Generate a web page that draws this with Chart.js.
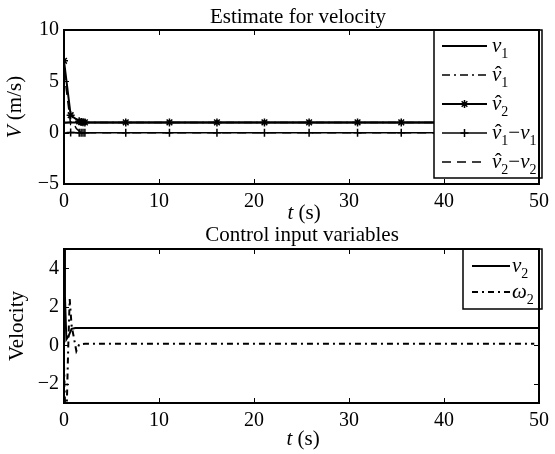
<!DOCTYPE html>
<html>
<head>
<meta charset="utf-8">
<script src="https://cdn.jsdelivr.net/npm/chart.js@4.4.0/dist/chart.umd.min.js"></script>
<style>
html, body { margin: 0; padding: 0; background: #fff; }
#wrap { position: relative; width: 555px; height: 454px; }
canvas { position: absolute; left: 0; }
</style>
</head>
<body>
<div id="wrap">
  <canvas id="topChart" width="555" height="227" style="top:0"></canvas>
  <canvas id="bottomChart" width="555" height="227" style="top:227px"></canvas>
</div>
<script>
/* Datos - gráfico superior (estimación de velocidad) */

const tMarks = [0, 0.7, 1.6, 1.8, 2.0, 2.2, 6.5, 11.1, 16.1, 21.1, 25.8, 30.9, 35.5, 40.4, 45.2, 50];
const v1Real = [1, 1, 1, 1, 1, 1, 1, 1, 1, 1, 1, 1, 1, 1, 1, 1];
const v1Est = [0.95, 1.02, 1, 1, 1, 1, 1, 1, 1, 1, 1, 1, 1, 1, 1, 1];
const v2Est = [7, 1.7, 1.1, 1.05, 1.02, 1.0, 1, 1, 1, 1, 1, 1, 1, 1, 1, 1];
const errV1 = [-0.05, 0.02, 0, 0, 0, 0, 0, 0, 0, 0, 0, 0, 0, 0, 0, 0];
const tErr2 = [0, 0.7, 1.0, 1.3, 1.7, 2.2, 50];
const errV2 = [6, 0.8, 0.9, 0.4, 0.05, 0, 0];
const topYTicks = [-5, 0, 5, 10];

/* Datos - gráfico inferior (variables de control) */

const tV2 = [0, 0.1, 0.25, 0.5, 0.8, 1.2, 2, 50];
const v2Input = [5, 2.5, 0.3, 0.5, 0.85, 0.9, 0.9, 0.9];
const tW2 = [0, 0.1, 0.3, 0.45, 0.6, 0.8, 1.0, 1.3, 1.6, 2.2, 49.5];
const w2Input = [-1, -3, -3, 0, 2.4, 1.0, 0.5, -0.3, 0.05, 0.08, 0.08];
const bottomYTicks = [-2, 0, 2, 4];

const xTicks = [0, 10, 20, 30, 40, 50];

const serif = '"Liberation Serif", "Times New Roman", serif';

/* etiquetas con subíndices y sombrero */
const topLegendNames = [
  [{t: 'v', it: 1}, {t: '1', sub: 1}],
  [{t: 'v', it: 1, hat: 1}, {t: '1', sub: 1}],
  [{t: 'v', it: 1, hat: 1}, {t: '2', sub: 1}],
  [{t: 'v', it: 1, hat: 1}, {t: '1', sub: 1}, {t: '−'}, {t: 'v', it: 1}, {t: '1', sub: 1}],
  [{t: 'v', it: 1, hat: 1}, {t: '2', sub: 1}, {t: '−'}, {t: 'v', it: 1}, {t: '2', sub: 1}]
];
const bottomLegendNames = [
  [{t: 'v', it: 1}, {t: '2', sub: 1}],
  [{t: 'ω', it: 1}, {t: '2', sub: 1}]
];

const pairs = (xs, ys) => xs.map((x, i) => ({x: x, y: ys[i]}));

/* dibujar texto "matemático" */
const tokenFont = (tk, size) => {
  if (tk.sub) return `${Math.round(size * 0.68)}px ${serif}`;
  return `${tk.it ? 'italic ' : ''}${size}px ${serif}`;
};

const measureMath = (ctx, tokens, size) => {
  let w = 0;
  tokens.forEach(tk => { ctx.font = tokenFont(tk, size); w += ctx.measureText(tk.t).width; });
  return w;
};

const drawMath = (ctx, x, y, tokens, size) => {
  ctx.textBaseline = 'alphabetic';
  ctx.textAlign = 'left';
  tokens.forEach(tk => {
    ctx.font = tokenFont(tk, size);
    const w = ctx.measureText(tk.t).width;
    ctx.fillText(tk.t, x, tk.sub ? y + size * 0.3 : y);
    if (tk.hat) {
      ctx.font = `${size}px ${serif}`;
      ctx.textAlign = 'center';
      ctx.fillText('ˆ', x + w / 2 + 1.5, y);
      ctx.textAlign = 'left';
    }
    x += w;
  });
};

/* marco estilo MATLAB: caja, ticks hacia adentro, títulos, leyenda */
const matlabFrame = {
  id: 'matlabFrame',
  afterDatasetsDraw(chart, args, opts) {
    const {ctx, chartArea: a, scales} = chart;
    const tl = 5;
    ctx.save();
    ctx.strokeStyle = '#000';
    ctx.fillStyle = '#000';
    ctx.lineWidth = 1;
    ctx.beginPath();
    scales.x.ticks.forEach(tk => {
      const px = Math.round(scales.x.getPixelForValue(tk.value)) + 0.5;
      ctx.moveTo(px, a.bottom); ctx.lineTo(px, a.bottom - tl);
      ctx.moveTo(px, a.top); ctx.lineTo(px, a.top + tl);
    });
    scales.y.ticks.forEach(tk => {
      const py = Math.round(scales.y.getPixelForValue(tk.value)) + 0.5;
      ctx.moveTo(a.left, py); ctx.lineTo(a.left + tl, py);
      ctx.moveTo(a.right, py); ctx.lineTo(a.right - tl, py);
    });
    ctx.stroke();

    // leyenda
    const lg = opts.legend;
    ctx.fillStyle = '#fff';
    ctx.fillRect(lg.x, lg.y, lg.w, lg.h);
    ctx.lineWidth = 1.5;
    ctx.strokeRect(lg.x, lg.y, lg.w, lg.h);
    ctx.fillStyle = '#000';
    lg.rows.forEach((ry, i) => {
      const ds = chart.data.datasets[i];
      ctx.save();
      ctx.lineWidth = ds.borderWidth;
      ctx.setLineDash(ds.borderDash || []);
      ctx.beginPath();
      ctx.moveTo(lg.x1, ry);
      ctx.lineTo(lg.x2, ry);
      ctx.stroke();
      ctx.restore();
      if (ds.pointRadius > 0) {
        ctx.lineWidth = ds.pointBorderWidth;
        Chart.helpers.drawPoint(ctx, {pointStyle: ds.pointStyle, radius: ds.pointRadius, borderWidth: ds.pointBorderWidth},
          (lg.x1 + lg.x2) / 2, ry);
      }
      drawMath(ctx, lg.tx, ry + 6, lg.names[i], 21);
    });

    // título y ejes
    ctx.font = `21px ${serif}`;
    ctx.textAlign = 'center';
    ctx.textBaseline = 'alphabetic';
    ctx.fillText(opts.title.text, opts.title.x, opts.title.y);

    const xw = measureMath(ctx, opts.xLabel.tokens, 21);
    drawMath(ctx, opts.xLabel.x - xw / 2, opts.xLabel.y, opts.xLabel.tokens, 21);

    const yw = measureMath(ctx, opts.yLabel.tokens, 21);
    ctx.save();
    ctx.translate(opts.yLabel.x, (a.top + a.bottom) / 2);
    ctx.rotate(-Math.PI / 2);
    drawMath(ctx, -yw / 2, 0, opts.yLabel.tokens, 21);
    ctx.restore();

    // caja de los ejes
    ctx.lineWidth = 2;
    ctx.strokeRect(a.left, a.top, a.width, a.height);
    ctx.restore();
  }
};

/* configuración común */
const chartConfigPrep = (datasets, yMin, yMax, yTicks, pad, xHeight, frame) => ({
  type: 'line',
  data: {datasets: datasets},
  options: {
    responsive: false,
    animation: false,
    layout: {padding: pad},
    plugins: {legend: {display: false}, tooltip: {enabled: false}, matlabFrame: frame},
    scales: {
      x: {
        type: 'linear', min: 0, max: 50,
        grid: {display: false, drawTicks: false}, border: {display: false},
        afterBuildTicks: s => { s.ticks = xTicks.map(v => ({value: v})); },
        afterFit: s => { s.height = xHeight; },
        ticks: {color: '#000', padding: 6, maxRotation: 0, font: {family: serif, size: 20}}
      },
      y: {
        min: yMin, max: yMax,
        grid: {display: false, drawTicks: false}, border: {display: false},
        afterBuildTicks: s => { s.ticks = yTicks.map(v => ({value: v})); },
        afterFit: s => { s.width = 64; },
        ticks: {color: '#000', padding: 5, font: {family: serif, size: 20},
          callback: v => String(v).replace('-', '−')}
      }
    }
  },
  plugins: [matlabFrame]
});

const lineDs = (data, opts) => Object.assign({
  data: data, borderColor: '#000', backgroundColor: '#000', borderWidth: 2,
  pointRadius: 0, pointBorderWidth: 1.5, pointStyle: 'circle', fill: false, tension: 0
}, opts);

const topDatasets = [
  lineDs(pairs(tMarks, v1Real), {order: 5}),
  lineDs(pairs(tMarks, v1Est), {borderWidth: 1.5, borderDash: [8, 4, 2, 4], order: 4}),
  lineDs(pairs(tMarks, v2Est), {pointRadius: 4, pointStyle: 'star', order: 1}),
  lineDs(pairs(tMarks, errV1), {pointRadius: 4, pointStyle: 'cross', borderWidth: 1.5, order: 3}),
  lineDs(pairs(tErr2, errV2), {borderWidth: 1.5, borderDash: [9, 6], order: 2})
];

const bottomDatasets = [
  lineDs(pairs(tV2, v2Input), {order: 1}),
  lineDs(pairs(tW2, w2Input), {borderDash: [6, 4, 2, 4], order: 2})
];

new Chart(document.getElementById('topChart'), chartConfigPrep(
  topDatasets, -5, 10, topYTicks, {left: 0, right: 13, top: 30, bottom: 0}, 43,
  {
    legend: {x: 434, y: 30, w: 108, h: 148, rows: [46, 75, 104, 133, 162], x1: 442, x2: 487, tx: 492, names: topLegendNames},
    title: {text: 'Estimate for velocity', x: 298, y: 23},
    xLabel: {tokens: [{t: 't', it: 1}, {t: ' (s)'}], x: 304, y: 219},
    yLabel: {tokens: [{t: 'V', it: 1}, {t: ' (m/s)'}], x: 21}
  }
));

new Chart(document.getElementById('bottomChart'), chartConfigPrep(
  bottomDatasets, -3, 5, bottomYTicks, {left: 0, right: 13, top: 22, bottom: 0}, 51,
  {
    legend: {x: 463, y: 22, w: 79, h: 60, rows: [39, 65], x1: 472, x2: 510, tx: 512, names: bottomLegendNames},
    title: {text: 'Control input variables', x: 302, y: 14},
    xLabel: {tokens: [{t: 't', it: 1}, {t: ' (s)'}], x: 303, y: 218},
    yLabel: {tokens: [{t: 'Velocity'}], x: 23}
  }
));
</script>
</body>
</html>
